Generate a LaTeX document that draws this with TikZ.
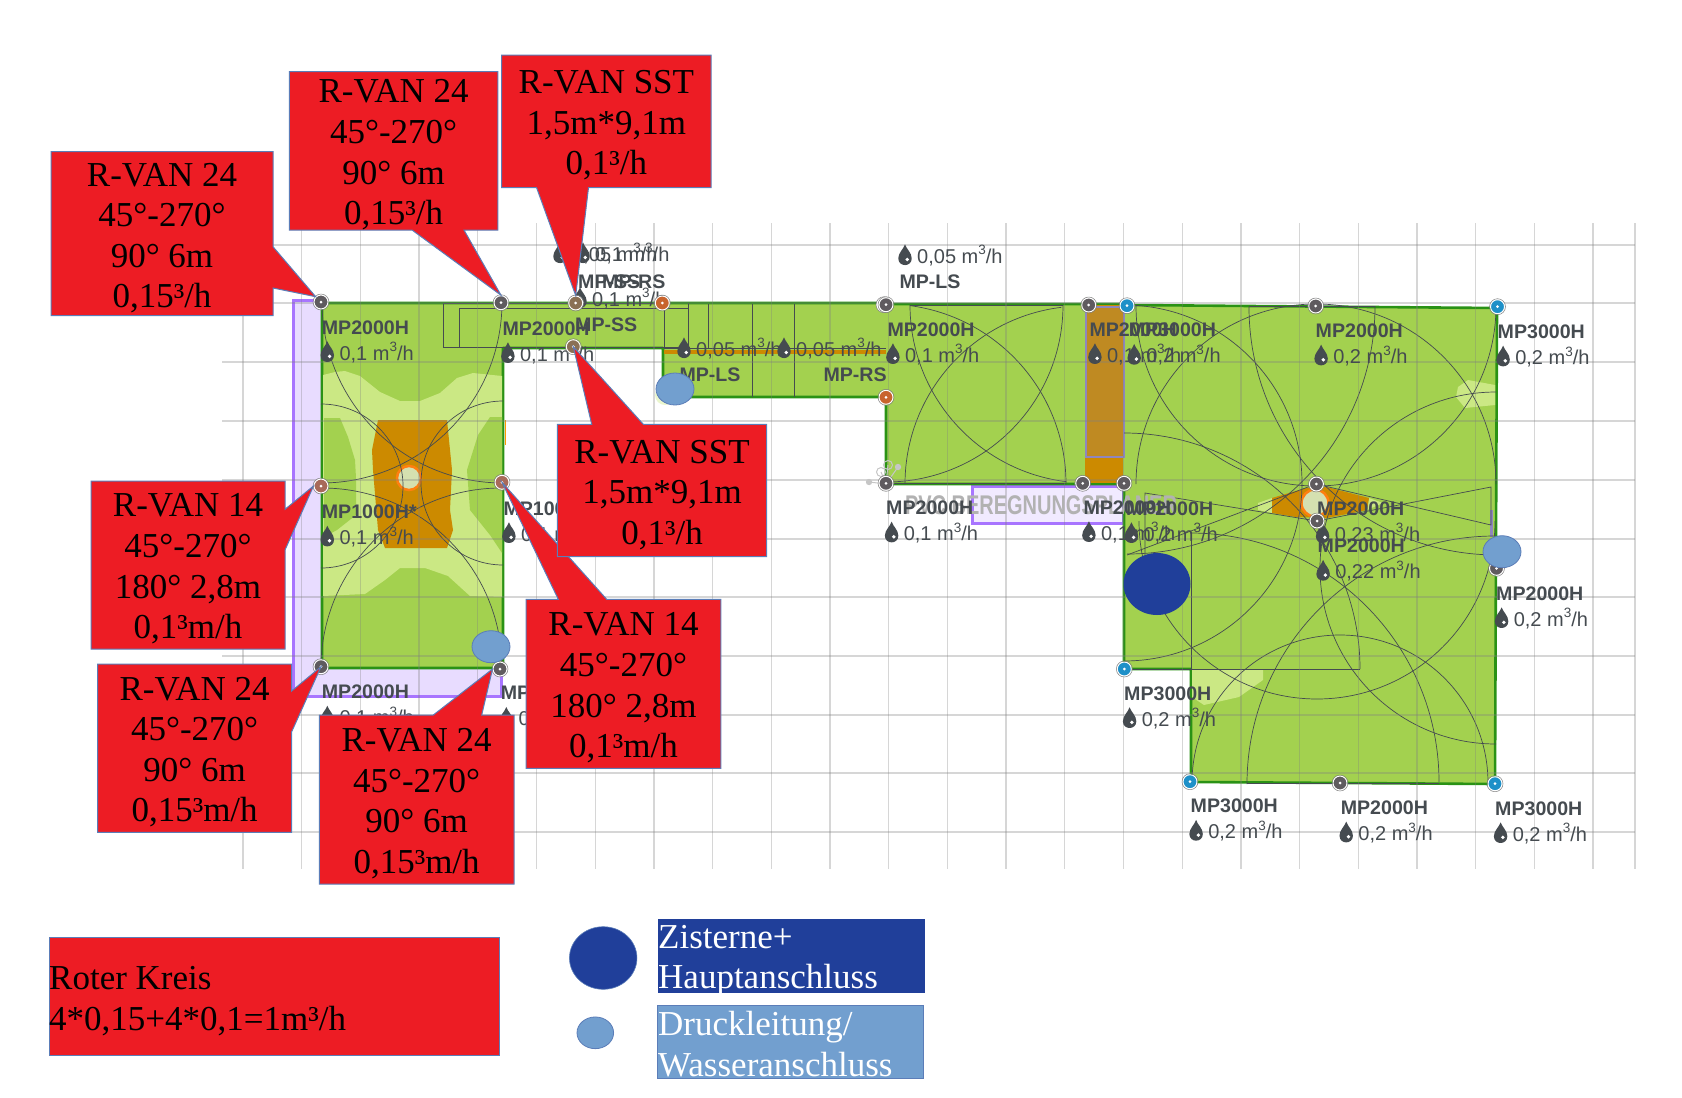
\documentclass[tikz,border=0pt]{standalone}
\usepackage{fontspec}
\usepackage{graphicx}
\setmainfont{Liberation Serif}
\newfontfamily\mapfont{Liberation Sans}
\definecolor{grassc}{HTML}{A3D14F}
\definecolor{lightg}{HTML}{CBE884}
\definecolor{edgeg}{HTML}{2A9215}
\definecolor{orangec}{HTML}{CC8A00}
\definecolor{bedc}{HTML}{BF8A22}
\definecolor{bedb}{HTML}{8F86BE}
\definecolor{ringc}{HTML}{FF7F10}
\definecolor{coreg}{HTML}{D5E0B0}
\definecolor{lav}{HTML}{E8DCFF}
\definecolor{lavb}{HTML}{A875FF}
\definecolor{ink}{HTML}{454B50}
\definecolor{redc}{HTML}{ED1C24}
\definecolor{blueb}{HTML}{5B7DB8}
\definecolor{darkb}{HTML}{203F9A}
\definecolor{lightb}{HTML}{729FCF}
\definecolor{headg}{HTML}{5F5B5F}
\definecolor{heado}{HTML}{C8642D}
\definecolor{headb}{HTML}{1E90C8}
\definecolor{headr}{HTML}{A86A5A}
\definecolor{headn}{HTML}{8A7055}
\usetikzlibrary{shapes.geometric}
\tikzset{
  zone/.style={fill=grassc,draw=edgeg,line width=2.6pt,line join=round},
  sweep/.style={draw=ink,line width=0.7pt},
  gridl/.style={draw=gray,opacity=.32,line width=1.3pt},
  callbox/.style={fill=redc,draw=blueb,line width=1pt,line join=miter},
  calltext/.style={align=center,inner sep=0pt,text=black,font=\fontsize{35}{40.6}\selectfont},
  legtext/.style={align=left,anchor=west,inner sep=0pt,font=\fontsize{35}{40.6}\selectfont},
  headnode/.style={circle,draw=white,line width=1pt,minimum size=14pt,inner sep=0pt},
  titlet/.style={anchor=west,inner sep=0pt,text=ink,font=\mapfont\bfseries\fontsize{19.6}{20}\selectfont},
  valuet/.style={anchor=west,inner sep=0pt,text=ink,font=\mapfont\fontsize{20}{20}\selectfont},
  ovall/.style={ellipse,fill=lightb,draw=blueb,line width=0.8pt,inner sep=0pt,minimum width=38pt,minimum height=32pt},
}
\newcommand{\sarc}[5]{\draw[sweep] (#1,#2) ++(#4:#3) arc[start angle=#4,end angle=#5,radius=#3];}
\newcommand{\sprink}[4]{\node[headnode,fill=#4] (#1) at (#2,#3) {};
  \draw[gray,line width=0.5pt] (#1.center) circle[radius=8];
  \fill[white] (#1.center) circle[radius=1.5];}
\newcommand{\drop}[2]{\begin{scope}[shift={(#1,#2)},scale=1.12]
  \fill[ink] (0,-9.5) .. controls (1.5,-5) and (6,-2) .. (6,3) .. controls (6,7) and (3,9) .. (0,9) .. controls (-3,9) and (-6,7) .. (-6,3) .. controls (-6,-2) and (-1.5,-5) .. (0,-9.5);
  \fill[white] (2,4) circle[radius=1.7];\end{scope}}
\newcommand{\flow}[3]{\drop{#1}{#2}\node[valuet] at (#1+12,#2+0.5) {#3 m\raisebox{0.42em}{\fontsize{13.5}{13.5}\selectfont 3}/h};}
\newcommand{\ttl}[3]{\node[titlet] at (#1,#2) {#3};}
\newcommand{\lab}[4]{\ttl{#1}{#2}{#3}\flow{#1+5.6}{#2+24.6}{#4}}
\begin{document}
\begin{tikzpicture}[x=1pt,y=-1pt]
\useasboundingbox (0,0) rectangle (1682,1098);
% lavender underlay
\draw[fill=lav,draw=lavb,line width=3pt] (293,300) -- (322,300) -- (322,664) -- (501,664) -- (501,696) -- (293,696) -- cycle;
\draw[fill=lav!60,draw=lavb,line width=3pt] (972,486) rectangle (1123,523);
% lawn zones
\draw[zone] (322,303) -- (886,303) -- (886,304) -- (1124,304) -- (1127,305) -- (1497,308) -- (1495,784) -- (1191,782) -- (1191,669) -- (1124,669) -- (1124,484) -- (886,484) -- (886,397) -- (663,397) -- (663,348) -- (503,348) -- (503,668) -- (322,668) -- cycle;
\draw[line width=1pt,draw=orange!80!yellow] (505,420) -- (505,445);
% heat map, left lawn
\fill[lightg] (323,375) -- (335,372) -- (345,371) -- (360,376) -- (380,392) -- (400,401) -- (420,401) -- (440,393) -- (457,378) -- (473,373) -- (502,376) -- (502,597) -- (470,596) -- (448,576) -- (425,568) -- (400,568) -- (385,580) -- (365,594) -- (323,596) -- cycle;
\fill[grassc] (324,418) -- (340,418) -- (348,437) -- (355,460) -- (356,478) -- (356,515) -- (337,530) -- (324,537) -- cycle;
\fill[grassc] (490,417) -- (502,417) -- (502,553) -- (490,535) -- (470,510) -- (467,470) -- (478,435) -- cycle;
\fill[orangec] (378,420) -- (447,420) -- (449,440) -- (452,470) -- (450,510) -- (453,530) -- (447,548) -- (385,548) -- (378,530) -- (373,470) -- (372,450) -- cycle;
\draw[fill=coreg,draw=ringc,line width=2.5pt] (409,478) circle[radius=12];
% heat map, strip and bed
\fill[orangec] (664,350) rectangle (886,354);
\fill[orangec] (1085,305) rectangle (1123,483);
\draw[fill=bedc,draw=bedb,line width=1.8pt] (1086,307) rectangle (1124,457);
% heat map, right lawn
\begin{scope}[xshift=-2pt]
\fill[lightg] (1260,503) -- (1274,498) -- (1274,513) -- (1260,510) -- cycle;
\fill[lightg] (1371,498) -- (1385,503) -- (1369,510) -- cycle;
\fill[orangec] (1274,498) -- (1308,488) -- (1329,487) -- (1371,498) -- (1369,510) -- (1329,518) -- (1298,517) -- (1274,513) -- cycle;
\draw[fill=coreg,draw=ringc,line width=2.5pt] (1317,503) circle[radius=13.5];
\end{scope}
\fill[lightg] (1458,387) -- (1468,380) -- (1495,385) -- (1495,405) -- (1465,408) -- (1456,397) -- cycle;
\fill[lightg] (1192,670) -- (1263,670) -- (1263,680) -- (1239,697) -- (1204,705) -- (1192,697) -- cycle;
\fill[bedb] (1490,510) rectangle (1493,537);
% coverage arcs, left lawn
\sarc{503}{302}{181}{90}{180}
\sarc{321}{302}{181}{0}{90}
\sarc{322}{668}{180}{-90}{0}
\sarc{501}{668}{180}{180}{270}
\sarc{321}{486}{82}{-90}{90}
\sarc{503}{483}{82}{90}{270}
% coverage arcs, middle lawn
\sarc{886}{484}{180}{-82.4}{0}
\sarc{1083}{484}{178}{180}{263}
\sarc{1088}{305}{178}{97}{180}
\sarc{886}{305}{177}{0}{88}
% coverage arcs, right lawn
\sarc{1316}{306}{180}{0}{180}
\sarc{1316}{484}{180}{180}{360}
\sarc{1317}{521}{178}{0}{180}
\sarc{1127}{306}{248}{0}{90}
\sarc{1497}{307}{248}{90}{180}
\sarc{1124}{669}{236}{-90}{0}
\sarc{1190}{782}{249}{-90}{0}
\sarc{1340}{783}{148}{180}{360}
\sarc{1495}{784}{248}{180}{270}
\sarc{1496}{568}{176}{90}{270}
\sarc{1124}{483}{178}{-90}{90}
% straight edges of the arcs and strip nozzles
\draw[sweep] (443,303) rectangle (664,347);
\draw[sweep] (459,308) rectangle (688,347);
\draw[sweep] (664,348) -- (886,348);
\draw[sweep] (688,303) -- (688,347) (708,304) -- (708,348) (752,304) -- (752,397) (794,304) -- (794,397);
\draw[sweep] (910,305) -- (1063,305) (893,483) -- (1065,483);
\draw[sweep] (1191,537) -- (1191,669) (1124,669) -- (1360,669) (1247,783) -- (1439,783) (1249,306) -- (1375,306);
\draw[sweep] (1317,521) -- (1145,493) -- (1145,555) (1317,521) -- (1491,487) -- (1491,525) -- (1316,484) -- (1127,555);
% grid
\foreach \gx in {243,301.7,...,1600} {\draw[gridl] (\gx,223) -- (\gx,869);}
\draw[gridl] (1635,223) -- (1635,869);
\foreach \gy in {245,303,362,421,480,539,597,656,715,773,832} {\draw[gridl] (222,\gy) -- (1635,\gy);}
% watermark
\begin{scope}[draw=gray!45,fill=gray!45,line width=1pt]
\draw (886,484) -- (869,482) (886,484) -- (881,472) (886,484) -- (888,465) (886,484) -- (898,467);
\fill (869,482) circle[radius=3.2] (898,467) circle[radius=3.2];
\draw (881,472) circle[radius=4.5] (888,465) circle[radius=4.5];
\end{scope}
\node[inner sep=0pt,text=gray!60,font=\mapfont\bfseries\fontsize{27}{27}\selectfont] (wm) at (1041,505) {\scalebox{0.74}[1]{PVC BEREGNUNGSPLANER}};
% labels
\lab{321.7}{327.3}{MP2000H}{0,1}
\lab{502.3}{328.3}{MP2000H}{0,1}
\lab{321.7}{511.7}{MP1000H*}{0,1}
\lab{503.3}{508.3}{MP1000H*}{0,1}
\lab{321.7}{691.7}{MP2000H}{0,1}
\lab{500.7}{693}{MP2000H}{0,1}
\flow{560}{253}{0,05}
\flow{583}{253}{0,1}
\ttl{578}{282}{MP-SS}
\ttl{602}{282}{MP-RS}
\flow{580}{298}{0,1}
\ttl{575}{325}{MP-SS}
\flow{684}{348}{0,05}
\flow{784}{348}{0,05}
\ttl{679.3}{374.3}{MP-LS}
\ttl{823.3}{374.3}{MP-RS}
\flow{905}{255}{0,05}
\ttl{899.3}{281.7}{MP-LS}
\lab{887.3}{329.3}{MP2000H}{0,1}
\lab{1089.3}{329.3}{MP2000H}{0,1}
\lab{1128.6}{330}{MP3000H}{0,2}
\lab{1315.5}{330.7}{MP2000H}{0,2}
\lab{1497.5}{331.7}{MP3000H}{0,2}
\lab{886}{507.7}{MP2000H}{0,1}
\lab{1083.3}{507.3}{MP2000H}{0,1}
\lab{1125.8}{508.3}{MP2000H}{0,2}
\lab{1317}{508.3}{MP2000H}{0,23}
\lab{1317.5}{546}{MP2000H}{0,22}
\lab{1496}{593.3}{MP2000H}{0,2}
\lab{1124}{693.3}{MP3000H}{0,2}
\lab{1190.5}{806}{MP3000H}{0,2}
\lab{1340.6}{807.7}{MP2000H}{0,2}
\lab{1495}{808.3}{MP3000H}{0,2}
% sprinkler heads
\fill[lightg!40!white] (665,395) circle[radius=10];
\draw[gray,line width=0.5pt,fill=white] (884,304.7) circle[radius=8];
\sprink{h1}{321}{302}{headg}
\sprink{h2}{501}{302.7}{headg}
\sprink{h3}{575.7}{303}{headn}
\sprink{h4}{662.3}{303}{heado}
\sprink{h5}{573.3}{346.7}{headn}
\sprink{h6}{321}{486}{headr}
\sprink{h7}{502}{482.3}{headr}
\sprink{h8}{321}{666.7}{headg}
\sprink{h9}{500}{669}{headg}
\sprink{h10}{886}{304.7}{headg}
\sprink{h11}{886}{397.3}{heado}
\sprink{h12}{886}{483.3}{headg}
\sprink{h13}{1088.7}{305}{headg}
\sprink{h14}{1127}{305.7}{headb}
\sprink{h15}{1082.7}{483.3}{headg}
\sprink{h16}{1124}{483.3}{headg}
\sprink{h17}{1315.7}{306}{headg}
\sprink{h18}{1497.5}{306.7}{headb}
\sprink{h19}{1316.4}{484}{headg}
\sprink{h20}{1317}{521}{headg}
\sprink{h21}{1496.5}{568.3}{headg}
\sprink{h22}{1124.3}{669}{headb}
\sprink{h23}{1190}{781.7}{headb}
\sprink{h24}{1340}{783}{headg}
\sprink{h25}{1495}{783.7}{headb}
% connection ovals
\node[ovall] (o1) at (675,389) {};
\node[ovall] (o2) at (491,646.7) {};
\node[ovall] (o3) at (1502,551.7) {};
\node[ellipse,fill=darkb,inner sep=0pt,minimum width=67pt,minimum height=62pt] (o4) at (1157,584) {};
% callouts
\filldraw[callbox] (51,151.7) -- (273,151.7) -- (273,246.7) -- (h1.north west) -- (273,288) -- (273,315.7) -- (51,315.7) -- cycle;
\node[calltext] (c1) at (162,238) {R-VAN 24\\45°-270°\\90° 6m\\0,15³/h};
\filldraw[callbox] (289.4,71.7) -- (497.8,71.7) -- (497.8,230) -- (464,230) -- (h2.north) -- (412,230) -- (289.4,230) -- cycle;
\node[calltext] (c2) at (393.6,155) {R-VAN 24\\45°-270°\\90° 6m\\0,15³/h};
\filldraw[callbox] (501.7,55) -- (711,55) -- (711,187.7) -- (588.5,187.7) -- (h3.north) -- (536.6,187.7) -- (501.7,187.7) -- cycle;
\node[calltext] (c3) at (606.4,125.5) {R-VAN SST\\1,5m*9,1m\\0,1³/h};
\filldraw[callbox] (720.9,599.3) -- (720.9,768.3) -- (526,768.3) -- (526,599.3) -- (558.3,599.3) -- (h7.center) -- (606.7,599.3) -- cycle;
\node[calltext] (c8) at (623.5,688) {R-VAN 14\\45°-270°\\180° 2,8m\\0,1³m/h};
\filldraw[callbox] (557.3,424.3) -- (591.7,424.3) -- (h5.center) -- (643.3,424.3) -- (766.7,424.3) -- (766.7,556.7) -- (557.3,556.7) -- cycle;
\node[calltext] (c4) at (662,495) {R-VAN SST\\1,5m*9,1m\\0,1³/h};
\filldraw[callbox] (91,481) -- (285,481) -- (285,509.3) -- (h6.west) -- (285,550) -- (285,649) -- (91,649) -- cycle;
\node[calltext] (c5) at (188,569) {R-VAN 14\\45°-270°\\180° 2,8m\\0,1³m/h};
\filldraw[callbox] (97.6,664) -- (291.7,664) -- (291.7,691) -- (h8.center) -- (291.7,731.7) -- (291.7,832.3) -- (97.6,832.3) -- cycle;
\node[calltext] (c6) at (194.6,752) {R-VAN 24\\45°-270°\\90° 6m\\0,15³m/h};
\filldraw[callbox] (319.3,715) -- (433.3,715) -- (h9.west) -- (481.7,715) -- (514,715) -- (514,884) -- (319.3,884) -- cycle;
\node[calltext] (c7) at (416.6,803.5) {R-VAN 24\\45°-270°\\90° 6m\\0,15³m/h};
% legend
\draw[callbox] (49,937.3) rectangle (499.7,1055);
\node[legtext,text=black] (roter) at (49,1001) {Roter Kreis\\4*0,15+4*0,1=1m³/h};
\node[ellipse,fill=darkb,draw=blueb,line width=0.6pt,inner sep=0pt,minimum width=67.5pt,minimum height=62.6pt] (lo1) at (603.2,958) {};
\node[ellipse,fill=lightb,draw=blueb,line width=0.8pt,inner sep=0pt,minimum width=36.6pt,minimum height=31.7pt] (lo2) at (595.3,1032.8) {};
\fill[darkb] (658,919) rectangle (925,992.7);
\node[legtext,text=white] (lg1) at (658,960.5) {Zisterne+\\Hauptanschluss};
\draw[fill=lightb,draw=blueb,line width=0.8pt] (657.7,1005) rectangle (923.5,1078.7);
\node[legtext,text=white] (lg2) at (658,1044) {Druckleitung/\\Wasseranschluss};
\end{tikzpicture}
\end{document}
